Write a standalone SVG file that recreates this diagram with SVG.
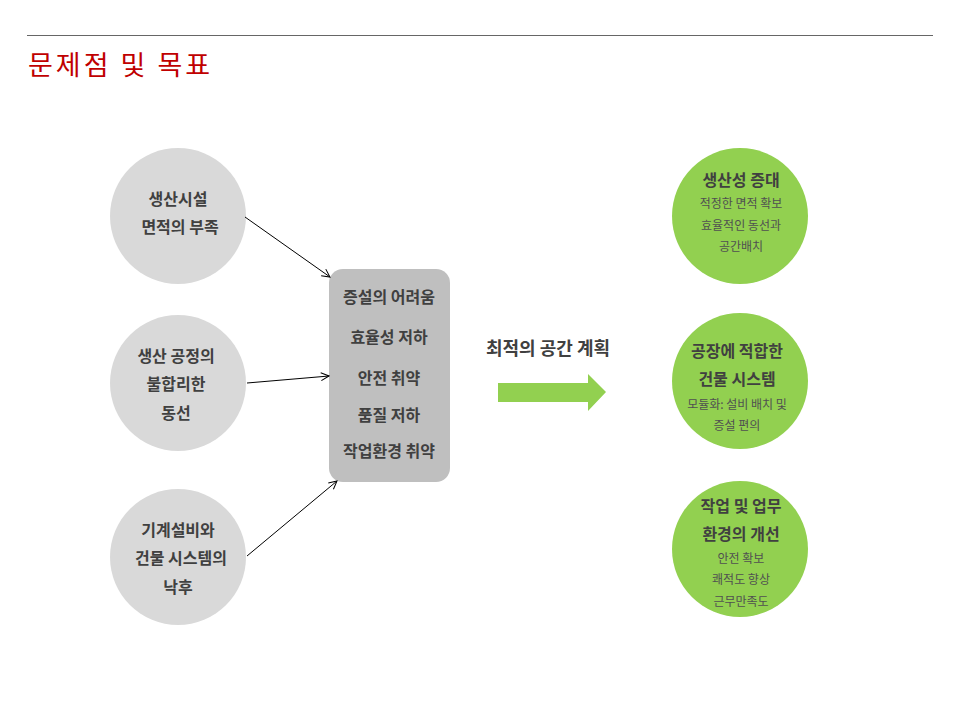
<svg xmlns="http://www.w3.org/2000/svg" width="960" height="720" viewBox="0 0 960 720">
<defs>
<style>
text{font-family:"Noto Sans CJK KR","Noto Sans",sans-serif;text-anchor:middle;fill:#404040}
.b{font-size:16px;font-weight:bold}
.s{font-size:12px;fill:#505050}
.g{fill:#d9d9d9}
.gr{fill:#92d050}
</style>
<marker id="a" markerWidth="10" markerHeight="10" refX="9" refY="5" orient="auto" markerUnits="userSpaceOnUse"><path d="M1,1 L9,5 L1,9" fill="none" stroke="#000" stroke-width="1"/></marker>
</defs>
<rect width="960" height="720" fill="#fff"/>
<line x1="27" y1="35.5" x2="933" y2="35.5" stroke="#666" stroke-width="1"/>
<text x="28" y="75" style="font-size:27px;fill:#c00000;text-anchor:start;letter-spacing:3px">문제점 및 목표</text>
<g id="n1"><circle cx="178" cy="216" r="68" class="g"/><text class="b" x="178" y="205">생산시설</text><text class="b" x="180" y="233">면적의 부족</text></g>
<g id="n2"><circle cx="178" cy="383" r="68" class="g"/><text class="b" x="176" y="362">생산 공정의</text><text class="b" x="176" y="390">불합리한</text><text class="b" x="176" y="419">동선</text></g>
<g id="n3"><circle cx="178" cy="557" r="68" class="g"/><text class="b" x="178" y="536">기계설비와</text><text class="b" x="181" y="564">건물 시스템의</text><text class="b" x="178" y="593">낙후</text></g>
<g id="c"><rect x="329" y="269" width="121" height="213" rx="14" fill="#bfbfbf"/>
<text class="b" x="389" y="303">증설의 어려움</text><text class="b" x="389" y="343">효율성 저하</text><text class="b" x="389" y="384">안전  취약</text><text class="b" x="389" y="421">품질 저하</text><text class="b" x="389" y="457">작업환경 취약</text></g>
<g id="conn" stroke="#000" stroke-width="1" fill="none">
<line x1="245" y1="217" x2="330" y2="277" marker-end="url(#a)"/>
<line x1="247" y1="383" x2="329" y2="376" marker-end="url(#a)"/>
<line x1="247" y1="556" x2="337" y2="481" marker-end="url(#a)"/>
</g>
<g id="mid"><text class="b" x="548" y="355" style="font-size:18px">최적의 공간 계획</text>
<polygon points="498,383 588,383 588,374 606,392 588,411 588,402 498,402" fill="#92d050"/></g>
<g id="r1"><circle cx="740" cy="216" r="68" class="gr"/><text class="b" x="741" y="186">생산성 증대</text><text class="s" x="741" y="208">적정한 면적 확보</text><text class="s" x="741" y="230">효율적인 동선과</text><text class="s" x="741" y="251">공간배치</text></g>
<g id="r2"><circle cx="740" cy="381" r="68" class="gr"/><text class="b" x="737" y="357">공장에 적합한</text><text class="b" x="737" y="385">건물 시스템</text><text class="s" x="737" y="409">모듈화: 설비 배치 및</text><text class="s" x="737" y="430">증설 편의</text></g>
<g id="r3"><circle cx="740" cy="549" r="68" class="gr"/><text class="b" x="741" y="512">작업 및 업무</text><text class="b" x="741" y="540">환경의 개선</text><text class="s" x="741" y="563">안전 확보</text><text class="s" x="741" y="584">쾌적도 향상</text><text class="s" x="741" y="606">근무만족도</text></g>
</svg>
